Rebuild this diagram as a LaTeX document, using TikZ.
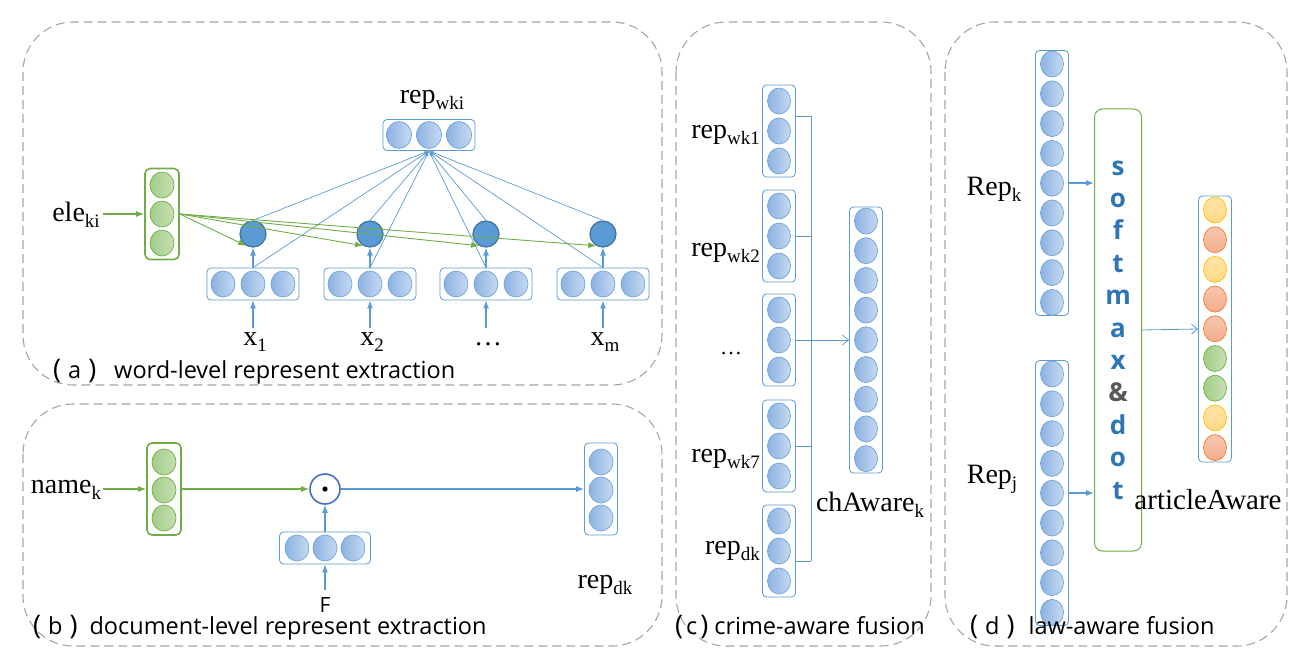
\documentclass[tikz,border=0pt]{standalone}
\usepackage{fontspec}
\setmainfont{Liberation Serif}
\newfontfamily\capfont{Open Sans}
\usepackage{xcolor}
\usepackage{tikz}
\usetikzlibrary{arrows.meta,shapes.geometric}
\definecolor{panelGray}{HTML}{A6A6A6}
\definecolor{boxBlue}{HTML}{5B9BD5}
\definecolor{circDraw}{HTML}{6FA3DA}
\definecolor{circLeft}{HTML}{8CB2E2}
\definecolor{circRight}{HTML}{C6DAF1}
\definecolor{greenDraw}{HTML}{70AD47}
\definecolor{greenLeft}{HTML}{A2CD86}
\definecolor{greenRight}{HTML}{C6E0B5}
\definecolor{attFill}{HTML}{5B9BD5}
\definecolor{attDraw}{HTML}{41719C}
\definecolor{yelDraw}{HTML}{FFC000}
\definecolor{yelFill}{HTML}{FFD985}
\definecolor{orgDraw}{HTML}{ED7D31}
\definecolor{orgFill}{HTML}{F3AE8C}
\definecolor{dotBlue}{HTML}{4472C4}
\definecolor{softBlue}{HTML}{2E75B6}
\definecolor{ampGray}{HTML}{595959}
\newcommand{\lsub}[1]{\raisebox{-6pt}{\fontsize{19}{19}\selectfont #1}}
\newcommand{\capTag}[3]{{\fontsize{27}{27}\selectfont(}\hspace{#2}#1\hspace{#2}{\fontsize{27}{27}\selectfont)}\hspace{#3}}
\tikzset{
  panelBox/.style={draw=panelGray, line width=1.1pt, dash pattern=on 9pt off 5pt, rounded corners=50pt},
  vecBox/.style={draw=boxBlue, line width=0.8pt, rounded corners=4pt, inner sep=0pt},
  greenBox/.style={draw=greenDraw, line width=1.6pt, rounded corners=5pt, inner sep=0pt},
  circBase/.style={ellipse, line width=0.7pt, minimum width=24pt, minimum height=26pt, inner sep=0pt},
  blueCirc/.style={circBase, draw=circDraw, left color=circLeft, right color=circRight},
  greenCirc/.style={circBase, draw=greenDraw, left color=greenLeft, right color=greenRight},
  yelCirc/.style={circBase, draw=yelDraw, top color=yelFill!70!white, bottom color=yelFill},
  orgCirc/.style={circBase, draw=orgDraw, top color=orgFill!70!white, bottom color=orgFill},
  attCirc/.style={circle, draw=attDraw, fill=attFill, line width=1.2pt, minimum size=26pt, inner sep=0pt},
  lblText/.style={font=\fontsize{28}{30}\selectfont, inner sep=0pt},
  capText/.style={font=\capfont\fontsize{23.5}{26}\selectfont, inner sep=0pt},
  softText/.style={font=\capfont\bfseries\fontsize{26}{28}\selectfont, text=softBlue, inner sep=0pt},
  blueArrow/.style={draw=boxBlue, line width=1.2pt, -{Latex[length=8pt,width=6pt]}},
  greenArrow/.style={draw=greenDraw, line width=1.2pt, -{Latex[length=8pt,width=6pt]}},
  thinArrow/.style={draw=boxBlue, line width=0.7pt, -{Latex[length=5pt,width=3pt]}},
  openArrow/.style={draw=boxBlue, line width=0.8pt, -{Straight Barb[length=6pt,width=10pt]}},
  busLine/.style={draw=boxBlue, line width=0.8pt}
}

\begin{document}
\begin{tikzpicture}[x=1pt, y=-1pt]
  \useasboundingbox (0,0) rectangle (1313,666);

  % panels
  \draw[panelBox] (23,22) rectangle (662,385);
  \draw[panelBox] (23,404) rectangle (662,646);
  \draw[panelBox] (676,22) rectangle (931,646);
  \draw[panelBox] (945,22) rectangle (1287,646);

  % (a) word-level
  \node[lblText, anchor=base] (repWLbl) at (432,103) {rep\lsub{wki}};
  \node[vecBox, minimum width=92pt, minimum height=31pt] (repW) at (429,135) {};
  \foreach \dx in {-30,0,30} \node[blueCirc, minimum width=25pt, minimum height=27pt] at (429+\dx,135) {};

  \node[lblText, anchor=base] (eleLbl) at (76,221) {ele\lsub{ki}};
  \node[greenBox, minimum width=34pt, minimum height=91pt] (gA) at (162,214) {};
  \foreach \dy in {-29,0,29} \node[greenCirc] at (162,214+\dy) {};
  \draw[greenArrow] ([xshift=3pt]eleLbl.east |- gA.west) -- (gA.west);

  \foreach \k/\px/\lab in {1/253/x\lsub{1}, 2/370/x\lsub{2}, 3/486/…, 4/603/x\lsub{m}} {
    \node[vecBox, minimum width=92pt, minimum height=32pt] (w\k) at (\px,284) {};
    \foreach \dx in {-30,0,30} \node[blueCirc] at (\px+\dx,284) {};
    \node[attCirc] (att\k) at (\px,234) {};
    \node[lblText, anchor=base] (xLbl\k) at (\px+2,345) {\lab};
    \coordinate (in\k) at (\px,328);
    \draw[blueArrow] (in\k) -- (w\k.south);
    \draw[blueArrow] (w\k.north) -- (att\k.south);
    \draw[thinArrow] (att\k.north) -- (repW.south);
    \draw[thinArrow] (w\k.north) -- (repW.south);
  }
  \foreach \k in {1,...,4} \draw[greenArrow, line width=0.9pt] (gA.east) -- (att\k.240);

  \node[capText, anchor=base west] (capA) at (53,378) {\capTag{a}{7pt}{18pt}word-level represent extraction};

  % (b) document-level
  \node[lblText, anchor=base] (nameLbl) at (66,493) {name\lsub{k}};
  \node[greenBox, minimum width=34pt, minimum height=92pt] (gB) at (164,489) {};
  \foreach \dy in {-28,0,28} \node[greenCirc] at (164,490+\dy) {};
  \draw[greenArrow] ([xshift=2pt]nameLbl.east |- gB.west) -- (gB.west);

  \node[circle, draw=dotBlue, line width=1.6pt, minimum size=30pt, inner sep=0pt] (dotOp) at (325,489) {};
  \fill (dotOp.center) circle (2.6pt);
  \draw[greenArrow] (gB.east) -- (dotOp.west);

  \node[vecBox, minimum width=33pt, minimum height=92pt] (repD) at (601,489) {};
  \foreach \dy in {-28,0,28} \node[blueCirc] at (601,490+\dy) {};
  \draw[blueArrow] (dotOp.east) -- (repD.west);
  \node[lblText, anchor=base] (repDLbl) at (605,588) {rep\lsub{dk}};

  \node[vecBox, minimum width=91pt, minimum height=32pt] (fBox) at (325,548) {};
  \foreach \dx in {-28,0,28} \node[blueCirc] at (325+\dx,548) {};
  \draw[blueArrow] (fBox.north) -- (dotOp.south);
  \coordinate (fIn) at (325,590);
  \draw[blueArrow] (fIn) -- (fBox.south);
  \node[capText, font=\capfont\fontsize{21}{22}\selectfont, anchor=base] (fLbl) at (325,612) {F};

  \node[capText, anchor=base west] (capB) at (33,634) {\capTag{b}{7pt}{12pt}document-level represent extraction};

  % (c) crime-aware fusion
  \foreach \k/\cy in {1/131, 2/236, 3/340, 4/446, 5/551} {
    \node[vecBox, minimum width=33pt, minimum height=92pt] (c\k) at (779,\cy) {};
    \foreach \dy in {-30,0,30} \node[blueCirc, minimum width=23pt] at (779,\cy+\dy) {};
  }
  \node[lblText, anchor=base east] (cLbl1) at (760,138) {rep\lsub{wk1}};
  \node[lblText, anchor=base east] (cLbl2) at (760,256) {rep\lsub{wk2}};
  \node[lblText, anchor=base, font=\fontsize{22}{24}\selectfont] (cLbl3) at (731,354) {…};
  \node[lblText, anchor=base east] (cLbl4) at (760,462) {rep\lsub{wk7}};
  \node[lblText, anchor=base east] (cLbl5) at (760,554) {rep\lsub{dk}};

  \coordinate (busTop) at (811,116);
  \coordinate (busBot) at (811,561);
  \coordinate (busMid) at (811,340);
  \draw[busLine] (busTop) -- (busBot);
  \draw[busLine] (c1.east |- busTop) -- (busTop);
  \draw[busLine] (c2.east) -- (c2.east -| busTop);
  \draw[busLine] (c3.east) -- (c3.east -| busTop);
  \draw[busLine] (c4.east) -- (c4.east -| busTop);
  \draw[busLine] (c5.east |- busBot) -- (busBot);

  \node[vecBox, minimum width=33pt, minimum height=266pt] (chA) at (866,340) {};
  \foreach \i in {0,...,8} \node[blueCirc, minimum width=23pt] at (866,221+29.7*\i) {};
  \draw[openArrow] (busMid) -- (chA.west);
  \node[lblText, anchor=base] (chALbl) at (870,511) {chAware\lsub{k}};

  \node[capText, anchor=base west] (capC) at (675,634) {\capTag{c}{3pt}{6pt}crime-aware fusion};

  % (d) law-aware fusion
  \node[vecBox, minimum width=33pt, minimum height=265pt] (repK) at (1052,183) {};
  \foreach \i in {0,...,8} \node[blueCirc, minimum width=23pt] at (1052,64+29.8*\i) {};
  \node[vecBox, minimum width=33pt, minimum height=265pt] (repJ) at (1052,493) {};
  \foreach \i in {0,...,8} \node[blueCirc, minimum width=23pt] at (1052,374+29.8*\i) {};
  \node[lblText, anchor=base] (repKLbl) at (994,195) {Rep\lsub{k}};
  \node[lblText, anchor=base] (repJLbl) at (992,483) {Rep\lsub{j}};

  \node[draw=greenDraw, line width=1pt, rounded corners=8pt, minimum width=47pt, minimum height=442pt] (smBox) at (1118,330) {};
  \foreach \ch [count=\i from 0] in {s,o,f,t,m,a,x,{\color{ampGray}\&},d,o,t}
    \node[softText, anchor=base] (sm\i) at (1118,175+32.4*\i) {\ch};
  \draw[blueArrow] (repK.east) -- (repK.east -| smBox.west);
  \draw[blueArrow] (repJ.east) -- (repJ.east -| smBox.west);

  \node[vecBox, minimum width=33pt, minimum height=266pt] (artA) at (1215,329) {};
  \foreach \c [count=\i from 0] in {yel,org,yel,org,org,green,green,yel,org}
    \node[\c Circ, minimum width=23pt] at (1215,210+29.7*\i) {};
  \draw[openArrow] (smBox.east) -- (artA.west);
  \node[lblText, anchor=base, font=\fontsize{29}{31}\selectfont] (artLbl) at (1208,509) {articleAware};

  \node[capText, anchor=base west] (capD) at (970,634) {\capTag{d}{7pt}{14pt}law-aware fusion};
\end{tikzpicture}
\end{document}
